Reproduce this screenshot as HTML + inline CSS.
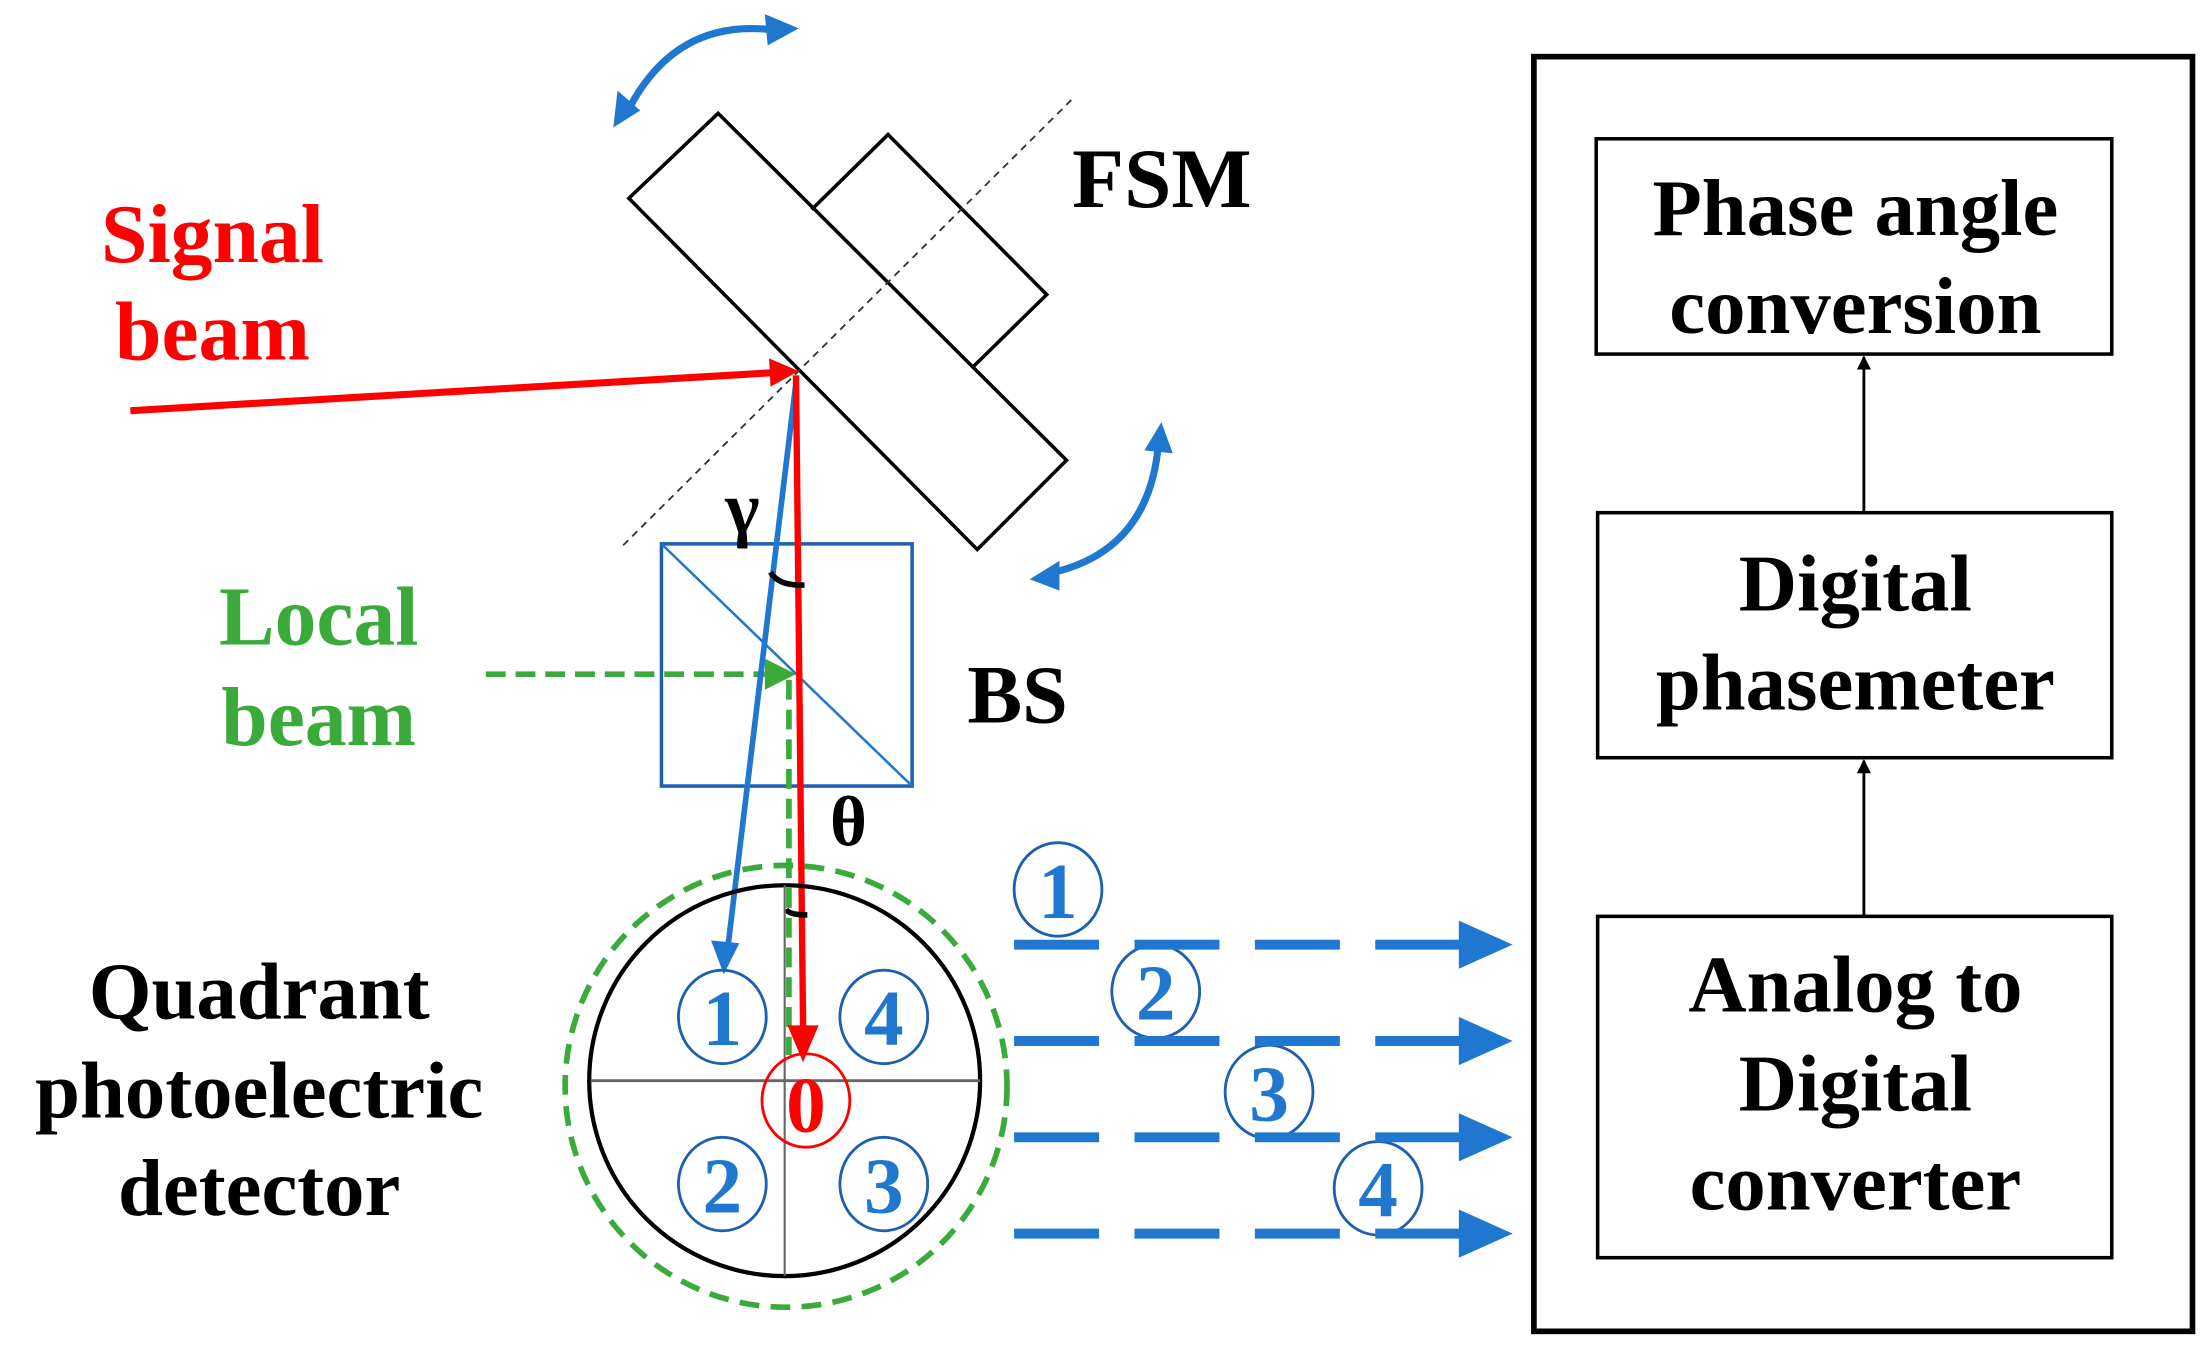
<!DOCTYPE html>
<html><head><meta charset="utf-8"><style>
html,body{margin:0;padding:0;background:#fff;}
svg{display:block;}
text{font-family:"Liberation Serif",serif;font-weight:bold;}
</style></head><body>
<svg width="2201" height="1354" viewBox="0 0 1554 956" xmlns="http://www.w3.org/2000/svg">
<defs>
<marker id="ab" markerWidth="10" markerHeight="10" refX="9" refY="5" orient="auto" markerUnits="userSpaceOnUse"><path d="M0,0 L10,5 L0,10z" fill="#000"/></marker>
</defs>
<rect x="1083" y="40" width="465" height="900" fill="none" stroke="#000" stroke-width="4"/>
<rect x="1127" y="98" width="364" height="152" fill="none" stroke="#000" stroke-width="2.5"/>
<rect x="1128" y="362" width="363" height="173" fill="none" stroke="#000" stroke-width="2.5"/>
<rect x="1128" y="647" width="363" height="241" fill="none" stroke="#000" stroke-width="2.5"/>
<line x1="1316" y1="362" x2="1316" y2="252" stroke="#000" stroke-width="2" marker-end="url(#ab)"/>
<line x1="1316" y1="647" x2="1316" y2="537" stroke="#000" stroke-width="2" marker-end="url(#ab)"/>
<g font-size="57" text-anchor="middle" fill="#000">
<text x="1310" y="166">Phase angle</text>
<text x="1310" y="235">conversion</text>
<text x="1310" y="431">Digital</text>
<text x="1310" y="501">phasemeter</text>
<text x="1310" y="714">Analog to</text>
<text x="1310" y="784">Digital</text>
<text x="1310" y="854">converter</text>
</g>
<polygon points="444,140 507,80 753,325 690,388" fill="none" stroke="#000" stroke-width="2.5"/>
<polyline points="573,148 627,95 739,208 686,260" fill="none" stroke="#000" stroke-width="2.5"/>
<line x1="440" y1="385" x2="757" y2="70" stroke="#333" stroke-width="1.3" stroke-dasharray="5,4"/>
<text x="757" y="146" font-size="60" fill="#000">FSM</text>
<path d="M445,75 Q480,10 552,22" fill="none" stroke="#1f77d0" stroke-width="5"/>
<polygon points="433,90 436,64 452,78" fill="#1f77d0"/>
<polygon points="564,20 540,10 542,32" fill="#1f77d0"/>
<path d="M818,312 Q812,390 740,405" fill="none" stroke="#1f77d0" stroke-width="5"/>
<polygon points="820,298 808,318 828,320" fill="#1f77d0"/>
<polygon points="727,409 748,396 748,417" fill="#1f77d0"/>
<line x1="92" y1="290" x2="548" y2="263" stroke="#ff0000" stroke-width="5"/>
<polygon points="564,262 543,253 544,273" fill="#ff0000"/>
<text x="150" y="185" font-size="59" fill="#ff0000" text-anchor="middle">Signal</text>
<text x="150" y="254" font-size="59" fill="#ff0000" text-anchor="middle">beam</text>
<rect x="467" y="384" width="177" height="171" fill="none" stroke="#1d5fb0" stroke-width="2.5"/>
<line x1="467" y1="384" x2="644" y2="555" stroke="#1f77d0" stroke-width="1.8"/>
<text x="683" y="510" font-size="58" fill="#000">BS</text>
<line x1="343" y1="476" x2="540" y2="476" stroke="#3aab3a" stroke-width="4" stroke-dasharray="14,7"/>
<polygon points="562,476 540,465 540,487" fill="#3aab3a"/>
<line x1="557" y1="480" x2="557" y2="745" stroke="#3aab3a" stroke-width="4" stroke-dasharray="14,7"/>
<text x="225" y="455" font-size="59" fill="#3aab3a" text-anchor="middle">Local</text>
<text x="225" y="526" font-size="59" fill="#3aab3a" text-anchor="middle">beam</text>
<line x1="562" y1="270" x2="514" y2="668" stroke="#1f77d0" stroke-width="4"/>
<polygon points="511,688 502,664 522,666" fill="#1f77d0"/>
<line x1="562" y1="265" x2="567" y2="725" stroke="#ff0000" stroke-width="4.5"/>
<polygon points="567,750 556,724 578,724" fill="#ff0000"/>
<path d="M544,404 Q550,414 568,413" fill="none" stroke="#000" stroke-width="4"/>
<path d="M555,642 Q557,646 570,646" fill="none" stroke="#000" stroke-width="4"/>
<text x="512" y="376" font-size="52" fill="#000">γ</text>
<text x="586" y="597" font-size="50" fill="#000">θ</text>
<circle cx="555" cy="767" r="156" fill="none" stroke="#3aab3a" stroke-width="4" stroke-dasharray="14,8"/>
<circle cx="554" cy="763" r="138" fill="none" stroke="#000" stroke-width="3"/>
<line x1="417" y1="763" x2="692" y2="763" stroke="#666" stroke-width="2"/>
<line x1="554" y1="625" x2="554" y2="901" stroke="#666" stroke-width="1.5"/>
<g fill="none" stroke="#1d5fb0" stroke-width="2">
<ellipse cx="510" cy="718" rx="31" ry="33"/>
<ellipse cx="624" cy="718" rx="31" ry="33"/>
<ellipse cx="510" cy="836" rx="31" ry="33"/>
<ellipse cx="624" cy="836" rx="31" ry="33"/>
<ellipse cx="747" cy="628" rx="31" ry="33"/>
<ellipse cx="816" cy="700" rx="31" ry="33"/>
<ellipse cx="896" cy="771" rx="31" ry="33"/>
<ellipse cx="973" cy="839" rx="31" ry="33"/>
</g>
<ellipse cx="569" cy="777" rx="31" ry="33" fill="none" stroke="#ff0000" stroke-width="2"/>
<g font-size="56" fill="#1f77d0" text-anchor="middle">
<text x="510" y="738">1</text>
<text x="624" y="738">4</text>
<text x="510" y="856">2</text>
<text x="624" y="856">3</text>
<text x="747" y="648">1</text>
<text x="816" y="720">2</text>
<text x="896" y="791">3</text>
<text x="973" y="859">4</text>
</g>
<text x="569" y="799" font-size="56" fill="#ff0000" text-anchor="middle">0</text>
<g font-size="57" fill="#000" text-anchor="middle">
<text x="183" y="719">Quadrant</text>
<text x="183" y="789">photoelectric</text>
<text x="183" y="858">detector</text>
</g>
<g stroke="#1f77d0" stroke-width="7" stroke-dasharray="60,25">
<line x1="716" y1="667" x2="1035" y2="667"/>
<line x1="716" y1="735" x2="1035" y2="735"/>
<line x1="716" y1="803" x2="1035" y2="803"/>
<line x1="716" y1="871" x2="1035" y2="871"/>
</g>
<g fill="#1f77d0">
<polygon points="1030,650 1068,667 1030,684"/>
<polygon points="1030,718 1068,735 1030,752"/>
<polygon points="1030,786 1068,803 1030,820"/>
<polygon points="1030,854 1068,871 1030,888"/>
</g>
</svg>
</body></html>
